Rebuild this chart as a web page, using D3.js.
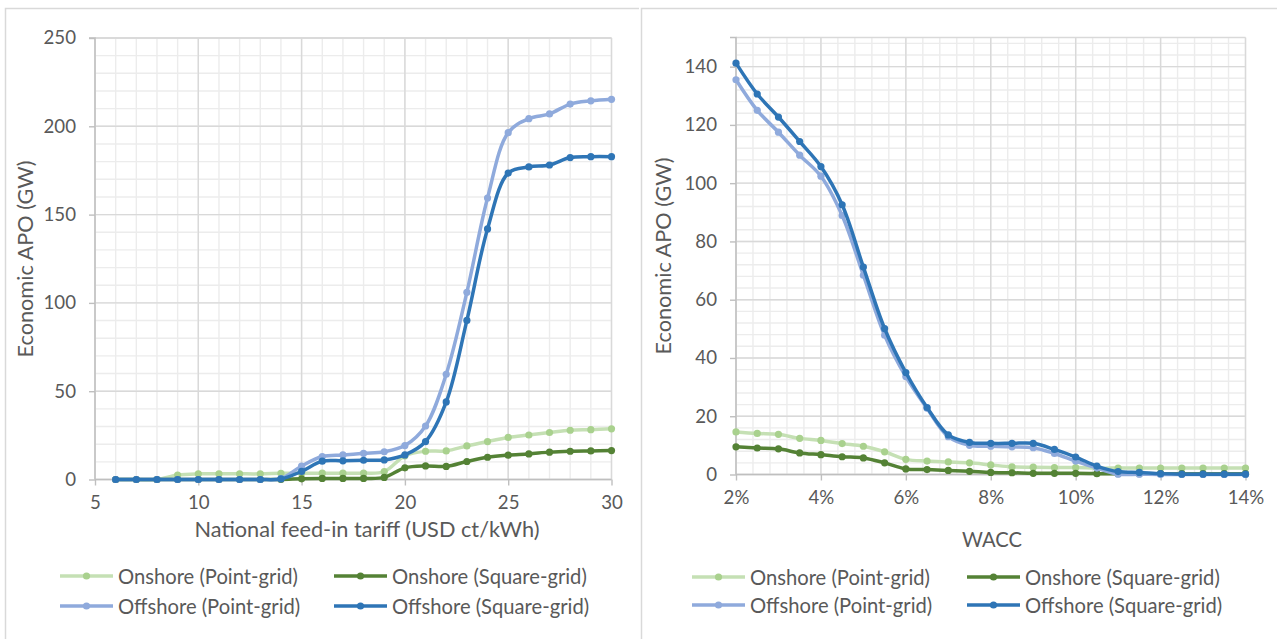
<!DOCTYPE html>
<html>
<head>
<meta charset="utf-8">
<script src="https://cdn.jsdelivr.net/npm/d3@7/dist/d3.min.js"></script>
<style>
  html, body { margin: 0; padding: 0; background: #fff; }
  svg { display: block; }
  text { font-family: Lato, "Open Sans", sans-serif; fill: #595959; }
</style>
</head>
<body>
<svg id="chart" width="1277" height="639"></svg>
<script>
// ---------- DATA ----------
const seriesNames = ["Onshore (Point-grid)", "Onshore (Square-grid)", "Offshore (Point-grid)", "Offshore (Square-grid)"];

// Left chart: national feed-in tariff (USD ct/kWh)
const tariff = [6,7,8,9,10,11,12,13,14,15,16,17,18,19,20,21,22,23,24,25,26,27,28,29,30];
const onshorePointTariff   = [0,0,0,2.5,3.2,3.2,3.2,3.2,3.5,3.6,3.6,3.6,3.6,4.5,13.4,16,16.2,19,21.5,23.8,25.2,26.6,27.9,28.2,28.7];
const onshoreSquareTariff  = [0,0,0,0,0,0,0,0,0,0.4,0.6,0.6,0.6,1.2,6.6,7.7,7.4,10.2,12.6,13.8,14.5,15.5,16,16.2,16.4];
const offshorePointTariff  = [0,0,0,0,0,0,0,0,0.5,7.6,13,13.9,14.8,15.7,19.2,30.3,59.6,106,159.4,196.4,204.3,207,212.6,214.4,215.3];
const offshoreSquareTariff = [0,0,0,0,0,0,0,0,0.3,4.6,10.4,10.6,10.9,11.1,13.9,21.5,43.9,90.1,141.9,173.5,177,178.1,182.3,182.8,182.8];
const tariffTicks = [5,10,15,20,25,30];
const tariffYTicks = [0,50,100,150,200,250];

// Right chart: WACC (%)
const wacc = [2,2.5,3,3.5,4,4.5,5,5.5,6,6.5,7,7.5,8,8.5,9,9.5,10,10.5,11,11.5,12,12.5,13,13.5,14];
const onshorePointWacc   = [14.6,14.1,13.8,12.4,11.7,10.6,9.7,7.8,5.2,4.6,4.3,4,3.3,2.6,2.5,2.4,2.4,2.2,2.2,2.2,2.2,2.2,2.2,2.2,2.2];
const onshoreSquareWacc  = [9.5,9.1,8.8,7.4,6.8,6.1,5.7,4,1.9,1.7,1.4,1.1,0.7,0.6,0.4,0.4,0.4,0.3,0.3,0.3,0.3,0.3,0.3,0.3,0.3];
const offshorePointWacc  = [135.5,125,117.5,109.6,102.4,88.9,68.4,47.8,33.6,22.7,13,10,9.7,9.5,9.2,7.2,4.6,2.2,0.1,0.1,0,0,0,0,0];
const offshoreSquareWacc = [141.2,130.6,122.7,114.3,105.7,92.6,71.2,50.1,35,23,13.6,11,10.7,10.7,10.7,8.6,6,2.9,1,0.7,0.3,0.1,0.1,0.1,0.1];
const waccTicks = [2,4,6,8,10,12,14];
const waccYTicks = [0,20,40,60,80,100,120,140];

// ---------- STYLE ----------
const lineColors   = ["#c5e0b4", "#548235", "#8faadc", "#2e75b6"];
const markerColors = ["#a9d18e", "#548235", "#8faadc", "#2e75b6"];

const svg = d3.select("#chart");

function sizeFor(str, targetW) {
  const probe = svg.append("text").attr("font-size", 100).text(str);
  const w = probe.node().getComputedTextLength();
  probe.remove();
  return 100 * targetW / w;
}
const FS = Math.min(22, sizeFor("Onshore (Point-grid)", 180));
const TICK_FS = Math.min(21, sizeFor("250", 32.5));

// Panel borders
const border = svg.append("g").attr("stroke", "#d9d9d9").attr("stroke-width", 1.5).attr("fill", "none");
border.append("path").attr("d", "M5.5,660 V8.5 H639");
border.append("path").attr("d", "M641.5,660 V8.5 H1290");

function drawChart(cfg) {
  const g = svg.append("g");
  const x = d3.scaleLinear().domain(cfg.xDomain).range([cfg.x0, cfg.x1]);
  const y = d3.scaleLinear().domain(cfg.yDomain).range([cfg.y0, cfg.y1]);

  // minor gridlines
  const grid = g.append("g");
  grid.selectAll("line.vminor").data(d3.range(cfg.xDomain[0], cfg.xDomain[1] + 1e-9, cfg.xMinor))
    .join("line").attr("x1", d => x(d)).attr("x2", d => x(d)).attr("y1", cfg.y0).attr("y2", cfg.y1)
    .attr("stroke", "#ececec").attr("stroke-width", 1.4);
  grid.selectAll("line.hminor").data(d3.range(cfg.yDomain[0], cfg.yDomain[1] + 1e-9, cfg.yMinor))
    .join("line").attr("y1", d => y(d)).attr("y2", d => y(d)).attr("x1", cfg.x0).attr("x2", cfg.x1)
    .attr("stroke", "#ececec").attr("stroke-width", 1.4);
  // major gridlines
  grid.selectAll("line.vmajor").data(cfg.xTicks)
    .join("line").attr("x1", d => x(d)).attr("x2", d => x(d)).attr("y1", cfg.y0).attr("y2", cfg.y1)
    .attr("stroke", "#d9d9d9").attr("stroke-width", 1.4);
  grid.selectAll("line.hmajor").data(cfg.yTicks.concat([cfg.yDomain[1]]))
    .join("line").attr("y1", d => y(d)).attr("y2", d => y(d)).attr("x1", cfg.x0).attr("x2", cfg.x1)
    .attr("stroke", "#d9d9d9").attr("stroke-width", 1.4);

  // axes
  const xAxis = d3.axisBottom(x).tickValues(cfg.xTicks).tickSize(6).tickPadding(10).tickFormat(cfg.xFormat);
  const yAxis = d3.axisLeft(y).tickValues(cfg.yTicks).tickSize(6).tickPadding(13).tickFormat(d3.format("d"));
  const gx = g.append("g").attr("transform", `translate(0,${cfg.y0})`).call(xAxis);
  const gy = g.append("g").attr("transform", `translate(${cfg.x0},0)`).call(yAxis);
  [gx, gy].forEach(a => {
    a.select(".domain").attr("stroke", "#bfbfbf").attr("stroke-width", 1.4);
    a.selectAll(".tick line").attr("stroke", "#bfbfbf").attr("stroke-width", 1.4);
    a.selectAll(".tick text").attr("font-size", TICK_FS).attr("font-family", "Lato, 'Open Sans', sans-serif").attr("fill", "#595959");
  });
  gy.select(".domain").attr("d", `M-6,${cfg.y1}H0V${cfg.y0}`);
  gx.select(".domain").attr("d", `M${cfg.x0},0H${cfg.x1}`);

  // axis titles
  g.append("text").attr("x", cfg.xTitleX).attr("y", cfg.xTitleY).attr("text-anchor", "middle")
    .attr("dominant-baseline", "central").attr("font-size", Math.min(23, sizeFor(cfg.xTitle, cfg.xTitleW))).text(cfg.xTitle);
  g.append("text").attr("transform", `translate(${cfg.yTitleX},${cfg.yTitleY}) rotate(-90)`)
    .attr("text-anchor", "middle").attr("dominant-baseline", "central")
    .attr("font-size", Math.min(23, sizeFor(cfg.yTitle, 197))).text(cfg.yTitle);

  // series
  const line = d3.line().x(d => x(d[0])).y(d => y(d[1])).curve(d3.curveCatmullRom.alpha(0.5));
  cfg.series.forEach((vals, i) => {
    const pts = cfg.xs.map((xv, j) => [xv, vals[j]]);
    const sg = g.append("g");
    sg.append("path").datum(pts).attr("d", line).attr("fill", "none")
      .attr("stroke", lineColors[i]).attr("stroke-width", 3.5).attr("stroke-linejoin", "round");
    sg.selectAll("circle").data(pts).join("circle")
      .attr("cx", d => x(d[0])).attr("cy", d => y(d[1])).attr("r", 3.6).attr("fill", markerColors[i]);
  });

  // legend
  const lg = g.append("g");
  seriesNames.forEach((name, i) => {
    const col = i % 2, row = Math.floor(i / 2);
    const lx = cfg.legX[col], ly = cfg.legY[row];
    lg.append("line").attr("x1", lx).attr("x2", lx + 53).attr("y1", ly).attr("y2", ly)
      .attr("stroke", lineColors[i]).attr("stroke-width", 3.5);
    lg.append("circle").attr("cx", lx + 26.5).attr("cy", ly).attr("r", 3.6).attr("fill", markerColors[i]);
    lg.append("text").attr("x", lx + 58).attr("y", ly).attr("dominant-baseline", "central")
      .attr("font-size", FS).text(name);
  });
}

drawChart({
  xs: tariff,
  series: [onshorePointTariff, onshoreSquareTariff, offshorePointTariff, offshoreSquareTariff],
  xDomain: [5, 30], yDomain: [0, 250],
  x0: 95, x1: 611.5, y0: 479.5, y1: 38,
  xMinor: 1, yMinor: 10,
  xTicks: tariffTicks, yTicks: tariffYTicks,
  xFormat: d3.format("d"),
  xTitle: "National feed-in tariff (USD ct/kWh)", xTitleX: 367, xTitleY: 529, xTitleW: 345,
  yTitle: "Economic APO (GW)", yTitleX: 25, yTitleY: 259,
  legX: [60, 334], legY: [576, 606]
});

drawChart({
  xs: wacc,
  series: [onshorePointWacc, onshoreSquareWacc, offshorePointWacc, offshoreSquareWacc],
  xDomain: [2, 14], yDomain: [0, 150],
  x0: 736, x1: 1245.5, y0: 474.5, y1: 37.5,
  xMinor: 0.4, yMinor: 4,
  xTicks: waccTicks, yTicks: waccYTicks,
  xFormat: d => d + "%",
  xTitle: "WACC", xTitleX: 992, xTitleY: 539, xTitleW: 60,
  yTitle: "Economic APO (GW)", yTitleX: 663, yTitleY: 256,
  legX: [692, 967], legY: [577, 605]
});
</script>
</body>
</html>
